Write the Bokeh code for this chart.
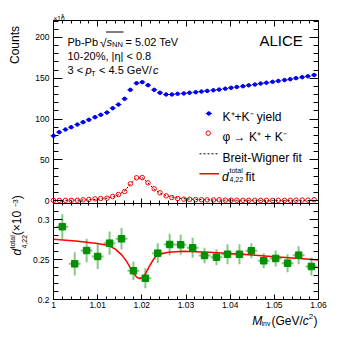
import math
from bokeh.plotting import figure
from bokeh.models import Range1d, LinearAxis, FixedTicker, CustomJSTickFormatter, Label
from bokeh.embed import file_html
from bokeh.resources import INLINE

# ---------------- data ----------------
# upper panel: invariant-mass bins (GeV/c^2)
mass_fine = [1.0000, 1.0013, 1.0027, 1.0040, 1.0054, 1.0067, 1.0080, 1.0094, 1.0107, 1.0121,
             1.0134, 1.0147, 1.0161, 1.0174, 1.0188, 1.0201, 1.0214, 1.0228, 1.0241, 1.0255,
             1.0268, 1.0281, 1.0295, 1.0308, 1.0322, 1.0335, 1.0348, 1.0362, 1.0375, 1.0389,
             1.0402, 1.0415, 1.0429, 1.0442, 1.0456, 1.0469, 1.0482, 1.0496, 1.0509, 1.0523,
             1.0536, 1.0549, 1.0563, 1.0576, 1.0590]
fine_half_width = 0.00067
# K+K- yield (x10^3 counts)
kk_yield = [79.6, 84.0, 87.3, 90.1, 93.4, 96.3, 99.2, 102.4, 105.3, 108.1,
            113.4, 117.9, 124.9, 135.9, 144.0, 145.3, 141.6, 135.9, 132.3, 130.2,
            130.2, 131.0, 131.5, 132.3, 133.0, 133.8, 134.6, 135.4, 136.2, 137.3,
            138.4, 139.4, 140.3, 141.4, 142.4, 143.6, 144.6, 145.7, 146.8, 147.9,
            148.9, 150.2, 151.4, 152.5, 154.0]
# phi -> K+K- signal (x10^3 counts)
phi_signal = [0.5, 0.5, 0.6, 0.6, 0.7, 1.2, 1.6, 2.4, 2.8, 3.2,
              5.3, 7.7, 11.4, 20.8, 28.2, 28.5, 22.0, 14.7, 9.8, 6.1,
              4.0, 2.8, 2.0, 1.8, 1.5, 1.3, 1.1, 1.0, 1.2, 0.8,
              0.7, 0.7, 0.6, 0.6, 0.6, 0.5, 0.6, 0.4, 0.5, 0.5,
              0.6, 0.7, 0.9, 0.8, 1.4]
# Breit-Wigner fit (x10^3 counts)
bw_fit = [0.4, 0.5, 0.6, 0.7, 0.8, 1.0, 1.3, 1.7, 2.3, 3.2,
          4.7, 7.3, 12.0, 20.5, 27.8, 28.2, 21.8, 14.3, 9.5, 6.4,
          4.6, 3.4, 2.6, 2.1, 1.7, 1.4, 1.2, 1.0, 0.9, 0.8,
          0.7, 0.65, 0.6, 0.55, 0.5, 0.5, 0.45, 0.45, 0.4, 0.4,
          0.4, 0.35, 0.35, 0.35, 0.3]

# lower panel: d^total_{4,22} (x10^-3)
mass_coarse = [1.0020, 1.0048, 1.0075, 1.0100, 1.0127, 1.0154, 1.0181, 1.0208, 1.0236, 1.0263,
               1.0288, 1.0315, 1.0342, 1.0369, 1.0394, 1.0421, 1.0448, 1.0476, 1.0503, 1.0530,
               1.0555, 1.0584]
coarse_half_width = 0.00134
d422 = [0.2910, 0.2446, 0.2612, 0.2538, 0.2704, 0.2759, 0.2359, 0.2266, 0.2579, 0.2688,
        0.2684, 0.2646, 0.2550, 0.2529, 0.2566, 0.2566, 0.2609, 0.2484, 0.2513, 0.2454,
        0.2554, 0.2413]
d422_err = [0.0156, 0.0146, 0.0146, 0.0156, 0.0146, 0.0135, 0.0115, 0.0125, 0.0125, 0.0135,
            0.0125, 0.0125, 0.0096, 0.0100, 0.0125, 0.0125, 0.0094, 0.0094, 0.0100, 0.0112,
            0.0112, 0.0112]
fit_mass = [1.000, 1.005, 1.010, 1.0125, 1.014, 1.0155, 1.0165, 1.0178, 1.0188, 1.0195,
            1.0203, 1.021, 1.0216, 1.0225, 1.0231, 1.024, 1.026, 1.0294, 1.035, 1.040,
            1.045, 1.050, 1.055, 1.060]
fit_d422 = [0.2753, 0.2730, 0.2700, 0.2675, 0.2630, 0.2555, 0.2480, 0.2360, 0.2280, 0.2262,
            0.2280, 0.2340, 0.2405, 0.2490, 0.2535, 0.2565, 0.2590, 0.2603, 0.2590, 0.2575,
            0.2555, 0.2535, 0.2515, 0.2495]

x_ticks = [1.0, 1.01, 1.02, 1.03, 1.04, 1.05, 1.06]
up_y_ticks = [0, 50, 100, 150, 200]
lo_y_ticks = [0.2, 0.25, 0.3]

# ---------------- layout / style ----------------
FONT = "Liberation Sans"
W, H = 345, 332                  # canvas; the plot frame covers all of it
X_LO, X_HI = 1.0, 1.06
UP_LO, UP_HI = -3.3, 220.8       # upper panel y extent
LO_LO, LO_HI = 0.2, 0.32         # lower panel y extent
PX_L, PX_R = 53, 318             # panel left/right (px)
PY_T, PY_M, PY_B = 20, 203, 299  # panel top / boundary / bottom (px)
x_per_px = (X_HI - X_LO) / (PX_R - PX_L)
up_per_px = (UP_HI - UP_LO) / (PY_M - PY_T)
lo_per_px = (LO_HI - LO_LO) / (PY_B - PY_M)

BLUE = "#0000ee"
RED = "#ff0000"
GREEN = "#009000"
LGREEN = "#86c886"

p = figure(width=W, height=H,
           x_range=Range1d(X_LO - PX_L * x_per_px, X_LO + (W - PX_L) * x_per_px),
           y_range=Range1d(UP_HI - (H - PY_T) * up_per_px, UP_HI + PY_T * up_per_px),
           output_backend="svg", toolbar_location=None,
           x_axis_location=None, y_axis_location=None,
           min_border=0, min_border_left=0, min_border_right=0, min_border_top=0,
           min_border_bottom=0, outline_line_color=None,
           background_fill_color="white", border_fill_color="white")
p.xgrid.grid_line_color = None
p.ygrid.grid_line_color = None
p.extra_y_ranges = {"lo": Range1d(LO_LO - (H - PY_B) * lo_per_px, LO_HI + PY_M * lo_per_px)}
LO_BOTTOM_MAIN = UP_LO - (PY_B - PY_M) * up_per_px   # panel bottom in main-range units

trim_fmt = CustomJSTickFormatter(code="return tick.toFixed(2).replace(/0+$/,'').replace(/\\.$/,'');")


def axis(side, ticker, fixed, bounds, major_in, minor_in, range_name="default",
         fmt=None, standoff=4):
    kw = dict(ticker=ticker, fixed_location=fixed, bounds=bounds)
    if side in ("left", "right"):
        kw["y_range_name"] = range_name
    ax = LinearAxis(**kw)
    ax.major_tick_in = major_in
    ax.major_tick_out = 0
    ax.minor_tick_in = minor_in
    ax.minor_tick_out = 0
    ax.axis_line_color = "black"
    ax.major_tick_line_color = "black"
    ax.minor_tick_line_color = "black"
    if fmt is not None:
        ax.formatter = fmt
        ax.major_label_text_font = FONT
        ax.major_label_text_font_size = "8.5px"
        ax.major_label_text_color = "black"
        ax.major_label_standoff = standoff
    else:
        ax.formatter = CustomJSTickFormatter(code="return '';")
        ax.major_label_text_font_size = "0px"
        ax.major_label_standoff = 0
    p.add_layout(ax, side)
    return ax


up_ticker = FixedTicker(ticks=up_y_ticks, minor_ticks=list(range(0, 221, 10)))
lo_ticker = FixedTicker(ticks=lo_y_ticks, minor_ticks=[LO_LO + 0.01 * i for i in range(13)])
x_ticker = FixedTicker(ticks=x_ticks, minor_ticks=[X_LO + 0.002 * i for i in range(31)])

axis("left", up_ticker, X_LO, (UP_LO, UP_HI), 9, 5,
     fmt=CustomJSTickFormatter(code="return tick.toFixed(0);"), standoff=4)
axis("right", up_ticker, X_HI, (UP_LO, UP_HI), 9, 5)
axis("left", lo_ticker, X_LO, (LO_LO, LO_HI), 9, 5, range_name="lo", fmt=trim_fmt, standoff=4)
axis("right", lo_ticker, X_HI, (LO_LO, LO_HI), 9, 5, range_name="lo")
axis("above", x_ticker, UP_HI, (X_LO, X_HI), 6, 3)
axis("below", x_ticker, UP_LO, (X_LO, X_HI), 5, 3)          # upper panel bottom
axis("above", x_ticker, UP_LO, (X_LO, X_HI), 4, 2)          # lower panel top
axis("below", x_ticker, LO_BOTTOM_MAIN, (X_LO, X_HI), 5, 3, fmt=trim_fmt, standoff=2)

# upper panel data
p.segment(x0=[m - fine_half_width for m in mass_fine], x1=[m + fine_half_width for m in mass_fine],
          y0=kk_yield, y1=kk_yield, line_color=BLUE, line_width=1)
p.scatter(mass_fine, kk_yield, marker="circle", size=3.5, fill_color=BLUE, line_color=BLUE)
p.line(mass_fine, bw_fit, line_color="black", line_width=1, line_dash="2 2")
p.scatter(mass_fine, phi_signal, marker="circle", size=4.5, fill_color=None, line_color=RED,
          line_width=1)

# lower panel data
p.segment(x0=mass_coarse, x1=mass_coarse,
          y0=[v - e for v, e in zip(d422, d422_err)], y1=[v + e for v, e in zip(d422, d422_err)],
          line_color=LGREEN, line_width=2, y_range_name="lo")
p.segment(x0=[m - coarse_half_width for m in mass_coarse],
          x1=[m + coarse_half_width for m in mass_coarse],
          y0=d422, y1=d422, line_color=LGREEN, line_width=2, y_range_name="lo")
p.line(fit_mass, fit_d422, line_color=RED, line_width=1.5, y_range_name="lo")
p.scatter(mass_coarse, d422, marker="square", size=6.5, fill_color=GREEN, line_color=GREEN,
          y_range_name="lo")


def pdata(xp, yp):
    """pixel position -> upper-panel plot coordinates (legend keys / decorations)"""
    return X_LO + (xp - PX_L) * x_per_px, UP_LO + (PY_M - yp) * up_per_px


def txt(xp, yp, text, size, style="normal"):
    p.add_layout(Label(x=xp, y=H - yp, x_units="screen", y_units="screen", text=text,
                       text_font=FONT, text_font_size=f"{size}px", text_font_style=style,
                       text_align="left", text_baseline="alphabetic", text_color="black"))


def vtxt(xc, yc, text, size, style="normal", dx=0.0, dy=0.0):
    """vertical text (reads upwards), placed by its centre; dx/dy compensate the
    renderer's offset of rotated text"""
    p.add_layout(Label(x=xc + dx, y=H - (yc + dy), x_units="screen", y_units="screen",
                       text=text, text_font=FONT, text_font_size=f"{size}px",
                       text_font_style=style, text_align="center", text_baseline="middle",
                       angle=math.pi / 2, text_color="black"))


# legend keys
kx, ky = pdata(208.3, 113)
kx0, _ = pdata(205.3, 113)
kx1, _ = pdata(211.3, 113)
p.segment(x0=[kx0], x1=[kx1], y0=[ky], y1=[ky], line_color=BLUE, line_width=1)
p.scatter([kx], [ky], marker="circle", size=3.5, fill_color=BLUE, line_color=BLUE)
rx, ry = pdata(207.7, 132.7)
p.scatter([rx], [ry], marker="circle", size=4.5, fill_color=None, line_color=RED, line_width=1)
lx0, ly = pdata(199, 153.3)
lx1, _ = pdata(218.5, 153.3)
p.line([lx0, lx1], [ly, ly], line_color="black", line_width=1, line_dash="2 2")
lx0, ly = pdata(199, 173.3)
lx1, _ = pdata(218.5, 173.3)
p.line([lx0, lx1], [ly, ly], line_color=RED, line_width=1.5)

txt(222, 116.7, "K⁺+K⁻ yield", 12)
txt(222, 136.7, "φ → K⁺ + K⁻", 12)
txt(222, 157.7, "Breit-Wigner fit", 12)
txt(221.5, 176.7, "d", 12, style="italic")
txt(229, 169.5, "total", 7)
txt(229, 179, "4,22", 7)
txt(245, 176.7, "fit", 12)

# header
txt(67, 41, "Pb-Pb", 11)
txt(99.5, 42, "√", 12)
sx0, sy = pdata(105.5, 31.5)
sx1, _ = pdata(123, 31.5)
p.line([sx0, sx1], [sy, sy], line_color="black", line_width=1)
txt(106, 41, "s", 11, style="italic")
txt(111.5, 43.5, "NN", 7.5)
txt(125, 41, "= 5.02 TeV", 11)
txt(67, 55, "10-20%, |η| < 0.8", 11)
txt(67, 69.3, "3 <", 11)
txt(85, 69.3, "p", 11, style="italic")
txt(90.5, 72.7, "T", 7.5)
txt(98.5, 69.3, "< 4.5 GeV/", 11)
txt(152.5, 69.3, "c", 11, style="italic")
txt(259, 40, "ALICE", 15)
txt(53, 18.3, "×10", 6.5)
txt(60.5, 15.3, "3", 5)

# x axis title
txt(251.7, 320.7, "M", 12, style="italic")
txt(261, 322.5, "inv", 7)
txt(271, 320.7, "(GeV/", 12)
txt(302.3, 320.7, "c", 12, style="italic")
txt(308.3, 315.5, "2", 8)
txt(313, 320.7, ")", 12)

# y axis titles (vertical)
vtxt(24.3, 36.5, "Counts", 12, dx=-10, dy=8)
vtxt(22.8, 257.6, "d", 12, style="italic", dx=-6, dy=-6)
vtxt(15.5, 247.4, "total", 7, dx=-3.5, dy=-6)
vtxt(27.0, 247.2, "4,22", 7, dx=-3.5, dy=-6)
vtxt(22.8, 226.8, " (×10", 12, dx=-6, dy=-6)
vtxt(18.6, 208.8, "−3", 7, dx=-3.5, dy=-6)
vtxt(22.8, 202.8, ")", 12, dx=-6, dy=-6)

open("out.html", "w").write(file_html(p, INLINE))
